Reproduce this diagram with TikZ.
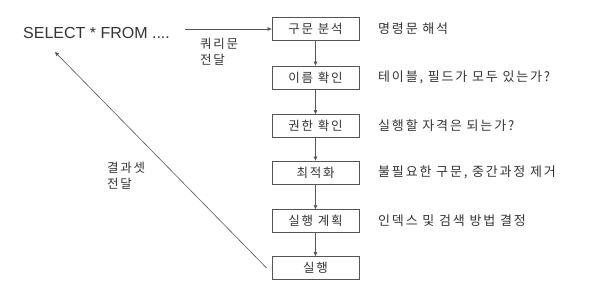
\documentclass[tikz,border=0pt]{standalone}
\usepackage{fontspec}
\setmainfont{Noto Sans CJK KR}[LetterSpace=14]
\newfontfamily\latinfont{Liberation Sans}
\usetikzlibrary{arrows.meta}
\definecolor{ln}{HTML}{555555}
\definecolor{tx}{HTML}{333333}
\tikzset{
  stepbox/.style={draw=ln, line width=0.8pt, minimum width=87pt, minimum height=23pt, inner sep=0pt, font=\fontsize{12.5}{13}\selectfont, text=tx},
  desc/.style={anchor=west, inner sep=0pt, font=\fontsize{13}{14}\selectfont, text=tx},
  lbl/.style={anchor=north west, inner sep=0pt, align=left, font=\fontsize{12.5}{16}\selectfont, text=tx},
  conn/.style={draw=ln, line width=0.6pt, -{Triangle[length=4pt,width=3.5pt]}},
}
\begin{document}
\begin{tikzpicture}[x=1pt,y=-1pt]
\useasboundingbox (0,0) rectangle (592,292);
\node[stepbox] (b1) at (315.5,28.5) {구문 분석};
\node[stepbox] (b2) at (315.5,77.5) {이름 확인};
\node[stepbox] (b3) at (315.5,126) {권한 확인};
\node[stepbox] (b4) at (315.5,172.5) {최적화};
\node[stepbox] (b5) at (315.5,221) {실행 계획};
\node[stepbox] (b6) at (315.5,268) {실행};
\node[desc] (d1) at (378,28.5) {명령문 해석};
\node[desc] (d2) at (378,77.5) {테이블, 필드가 모두 있는가?};
\node[desc] (d3) at (378,126) {실행할 자격은 되는가?};
\node[desc] (d4) at (378,172.5) {불필요한 구문, 중간과정 제거};
\node[desc] (d5) at (378,221) {인덱스 및 검색 방법 결정};
\node[desc, font=\latinfont\fontsize{16}{17}\selectfont] (sel) at (23,33) {SELECT * FROM ....};
\coordinate (qs) at (185,29);
\node[lbl] (ql) at (200,38) {쿼리문\\전달};
\node[lbl] (rl) at (107,162) {결과셋\\전달};
\coordinate (rt) at (55,52);
\draw[conn] (qs) -- (b1.west |- qs);
\draw[conn] (b1) -- (b2);
\draw[conn] (b2) -- (b3);
\draw[conn] (b3) -- (b4);
\draw[conn] (b4) -- (b5);
\draw[conn] (b5) -- (b6);
\draw[conn] (b6.west) ++(-5,0) coordinate (rs) -- (rt);
\end{tikzpicture}
\end{document}
